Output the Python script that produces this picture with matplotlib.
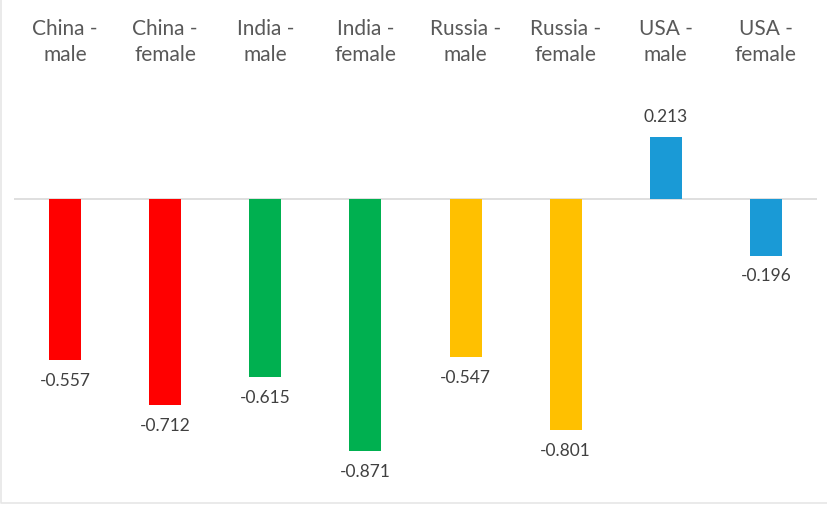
import matplotlib
matplotlib.use("Agg")
import matplotlib.pyplot as plt
from matplotlib.lines import Line2D

categories = ["China -\nmale", "China -\nfemale", "India -\nmale", "India -\nfemale",
              "Russia -\nmale", "Russia -\nfemale", "USA -\nmale", "USA -\nfemale"]
values = [-0.557, -0.712, -0.615, -0.871, -0.547, -0.801, 0.213, -0.196]
colors = ["#FF0000", "#FF0000", "#00B050", "#00B050",
          "#FFC000", "#FFC000", "#1A9AD6", "#1A9AD6"]

plt.rcParams['font.family'] = ['Lato', 'DejaVu Sans']

W, H = 827, 505
fig = plt.figure(figsize=(W / 100, H / 100), dpi=100)

# axes in pixel terms: left 14, right 817, top 75, bottom 495
top_px, bot_px = 75, 495
ax = fig.add_axes([14 / W, 1 - bot_px / H, (817 - 14) / W, (bot_px - top_px) / H])

scale = 289.0  # px per unit
zero_px = 199
ax.set_ylim(-(bot_px - zero_px) / scale, (zero_px - top_px) / scale)

x = list(range(len(values)))
ax.bar(x, values, width=0.32, color=colors, zorder=3)
ax.set_xlim(-0.51, len(values) - 0.49)
ax.axhline(0, color="#D9D9D9", linewidth=1.2, zorder=2)

for xi, v in zip(x, values):
    off = 15 if v >= 0 else -15
    ax.annotate(f"{v:.3f}", (xi, v), xytext=(0, off), textcoords="offset points",
                ha="center", va="center", fontsize=12.5, color="#404040")

ax.xaxis.tick_top()
ax.set_xticks(x)
ax.set_xticklabels(categories, fontsize=15, color="#595959", linespacing=1.4)
ax.tick_params(axis="x", length=0, pad=7)
ax.set_yticks([])
for s in ax.spines.values():
    s.set_visible(False)

# faint chart frame (left and bottom edges visible)
fig.lines.append(Line2D([0.5 / W, 0.5 / W, 1], [1, 2.5 / H, 2.5 / H],
                        transform=fig.transFigure, color="#E6E6E6", linewidth=1.2))

fig.savefig("out.png", dpi=100)
